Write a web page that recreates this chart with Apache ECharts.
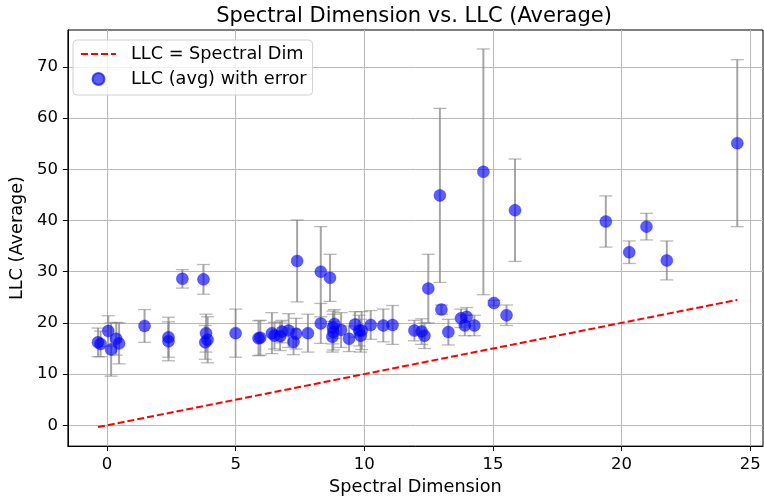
<!DOCTYPE html>
<html><head><meta charset="utf-8">
<script src="https://cdn.jsdelivr.net/npm/echarts@6/dist/echarts.min.js"></script>
<style>html,body{margin:0;padding:0;background:#fff}#c{width:764px;height:501px}</style>
</head><body><div id="c"></div>
<script>
// ---- data ----
const spectralDim = [-0.35,-0.25,0.05,0.16,0.36,0.47,1.46,2.39,2.39,2.93,3.75,3.85,3.91,3.82,5.0,5.89,5.96,6.41,6.51,6.73,6.8,7.06,7.25,7.35,7.39,7.81,8.31,8.31,8.67,8.76,8.8,8.84,8.78,9.1,9.41,9.64,9.8,9.86,9.9,10.25,10.74,11.1,11.95,12.23,12.34,12.49,12.94,13.0,13.27,13.76,13.91,13.98,14.28,14.63,15.04,15.53,15.86,19.39,20.3,20.97,21.76,24.5];
const llcAvg = [16.2,15.9,18.4,14.8,16.9,16.0,19.4,17.2,16.4,28.6,28.5,18.0,16.7,16.2,18.0,17.0,17.1,18.0,17.5,17.4,18.3,18.5,16.3,17.9,32.1,18.0,30.0,19.9,28.8,17.3,18.2,19.8,19.1,18.6,16.9,19.7,18.5,17.5,18.5,19.6,19.5,19.6,18.5,18.3,17.5,26.7,44.9,22.6,18.2,20.9,19.5,21.2,19.5,49.5,23.9,21.5,42.0,39.8,33.8,38.8,32.2,55.1];
const llcErr = [2.8,2.5,3.0,5.2,3.2,4.0,3.2,3.9,3.8,1.8,2.9,3.7,4.5,3.3,4.7,3.4,3.4,4.0,2.6,2.8,2.2,3.3,2.5,3.0,8.0,3.7,8.8,3.9,4.6,3.0,3.5,2.8,3.2,3.4,2.5,2.5,3.0,3.2,3.7,2.8,3.2,3.8,2.0,2.5,2.5,6.7,17.0,0.9,2.5,1.8,2.0,1.8,2.0,24.0,0.5,2.0,10.0,5.0,2.2,2.6,3.8,16.3];
const xTicks = [0,5,10,15,20,25];
const yTicks = [0,10,20,30,40,50,60,70];
const xRange = [-1.52, 25.5];
const yRange = [-4.06, 77.2];
const titleText = 'Spectral Dimension vs. LLC (Average)';
const xName = 'Spectral Dimension';
const yName = 'LLC (Average)';
const lineName = 'LLC = Spectral Dim';
const scatterName = 'LLC (avg) with error';

const FONT = 'DejaVu Sans';
const points = spectralDim.map((x,i)=>[x, llcAvg[i]]);
const bars = spectralDim.map((x,i)=>[x, llcAvg[i]-llcErr[i], llcAvg[i]+llcErr[i]]);
const xmin = Math.min(...spectralDim), xmax = Math.max(...spectralDim);
const idLine = [[xmin, xmin],[xmax, xmax]];

const chart = echarts.init(document.getElementById('c'), null, {renderer:'canvas'});
const axisCommon = {
  axisLine:{show:true, onZero:false, lineStyle:{color:'#000', width:1}},
  axisTick:{show:true, inside:false, length:5, lineStyle:{color:'#000', width:1}},
  splitLine:{show:true, lineStyle:{color:'#b8b8b8', width:1}},
};
chart.setOption({
  animation:false,
  backgroundColor:'#fff',
  title:{text:titleText, left:414, textAlign:'center', top:6, padding:0,
    textStyle:{fontFamily:FONT, fontSize:21, fontWeight:'normal', color:'#000'}},
  grid:{left:64, right:1, top:30, bottom:51, show:true, borderColor:'#000', borderWidth:1, containLabel:false},
  legend:{left:73, top:40, orient:'vertical', itemWidth:35, itemHeight:12, itemGap:7,
    padding:[5,6,7,7], borderColor:'#d0d0d0', borderWidth:1, borderRadius:4,
    backgroundColor:'rgba(255,255,255,0.8)',
    textStyle:{fontFamily:FONT, fontSize:17.7, color:'#000', padding:[0,0,0,10]},
    data:[{name:lineName, itemStyle:{opacity:0}}, {name:scatterName, icon:'circle'}]},
  xAxis:Object.assign({}, axisCommon, {
    type:'value', min:xRange[0], max:xRange[1],
    axisTick:Object.assign({}, axisCommon.axisTick, {customValues:xTicks}),
    axisLabel:{customValues:xTicks, margin:10, fontFamily:FONT, fontSize:16.5, color:'#000'},
    name:xName, nameLocation:'middle', nameGap:30,
    nameTextStyle:{fontFamily:FONT, fontSize:17.7, color:'#000'}
  }),
  yAxis:Object.assign({}, axisCommon, {
    type:'value', min:yRange[0], max:yRange[1],
    axisTick:Object.assign({}, axisCommon.axisTick, {customValues:yTicks}),
    axisLabel:{customValues:yTicks, margin:10, fontFamily:FONT, fontSize:16.5, color:'#000'},
    name:yName, nameLocation:'middle', nameGap:38,
    nameTextStyle:{fontFamily:FONT, fontSize:17.7, color:'#000'}
  }),
  series:[
    {
      type:'custom', name:'errbars', silent:true, z:2,
      data:bars,
      encode:{x:0, y:[1,2]},
      renderItem:function(params, api){
        const x = api.value(0);
        const lo = api.coord([x, api.value(1)]);
        const hi = api.coord([x, api.value(2)]);
        const cw = 6.5;
        const st = {stroke:'rgba(128,128,128,0.7)', lineWidth:2};
        const cst = {stroke:'rgba(128,128,128,0.55)', lineWidth:1.3};
        return {type:'group', children:[
          {type:'line', shape:{x1:lo[0], y1:lo[1], x2:hi[0], y2:hi[1]}, style:st},
          {type:'line', shape:{x1:lo[0]-cw, y1:lo[1], x2:lo[0]+cw, y2:lo[1]}, style:cst},
          {type:'line', shape:{x1:hi[0]-cw, y1:hi[1], x2:hi[0]+cw, y2:hi[1]}, style:cst}
        ]};
      }
    },
    {
      type:'line', name:lineName, data:idLine, symbol:'none', z:3,
      lineStyle:{color:'#ff0000', width:2, type:[7,3]}, itemStyle:{color:'#ff0000'}
    },
    {
      type:'scatter', name:scatterName, data:points, symbol:'circle', symbolSize:12, z:4,
      itemStyle:{color:'rgba(0,0,255,0.8)', borderColor:'rgba(0,0,255,0.8)', borderWidth:0.5}
    }
  ]
});
</script></body></html>
